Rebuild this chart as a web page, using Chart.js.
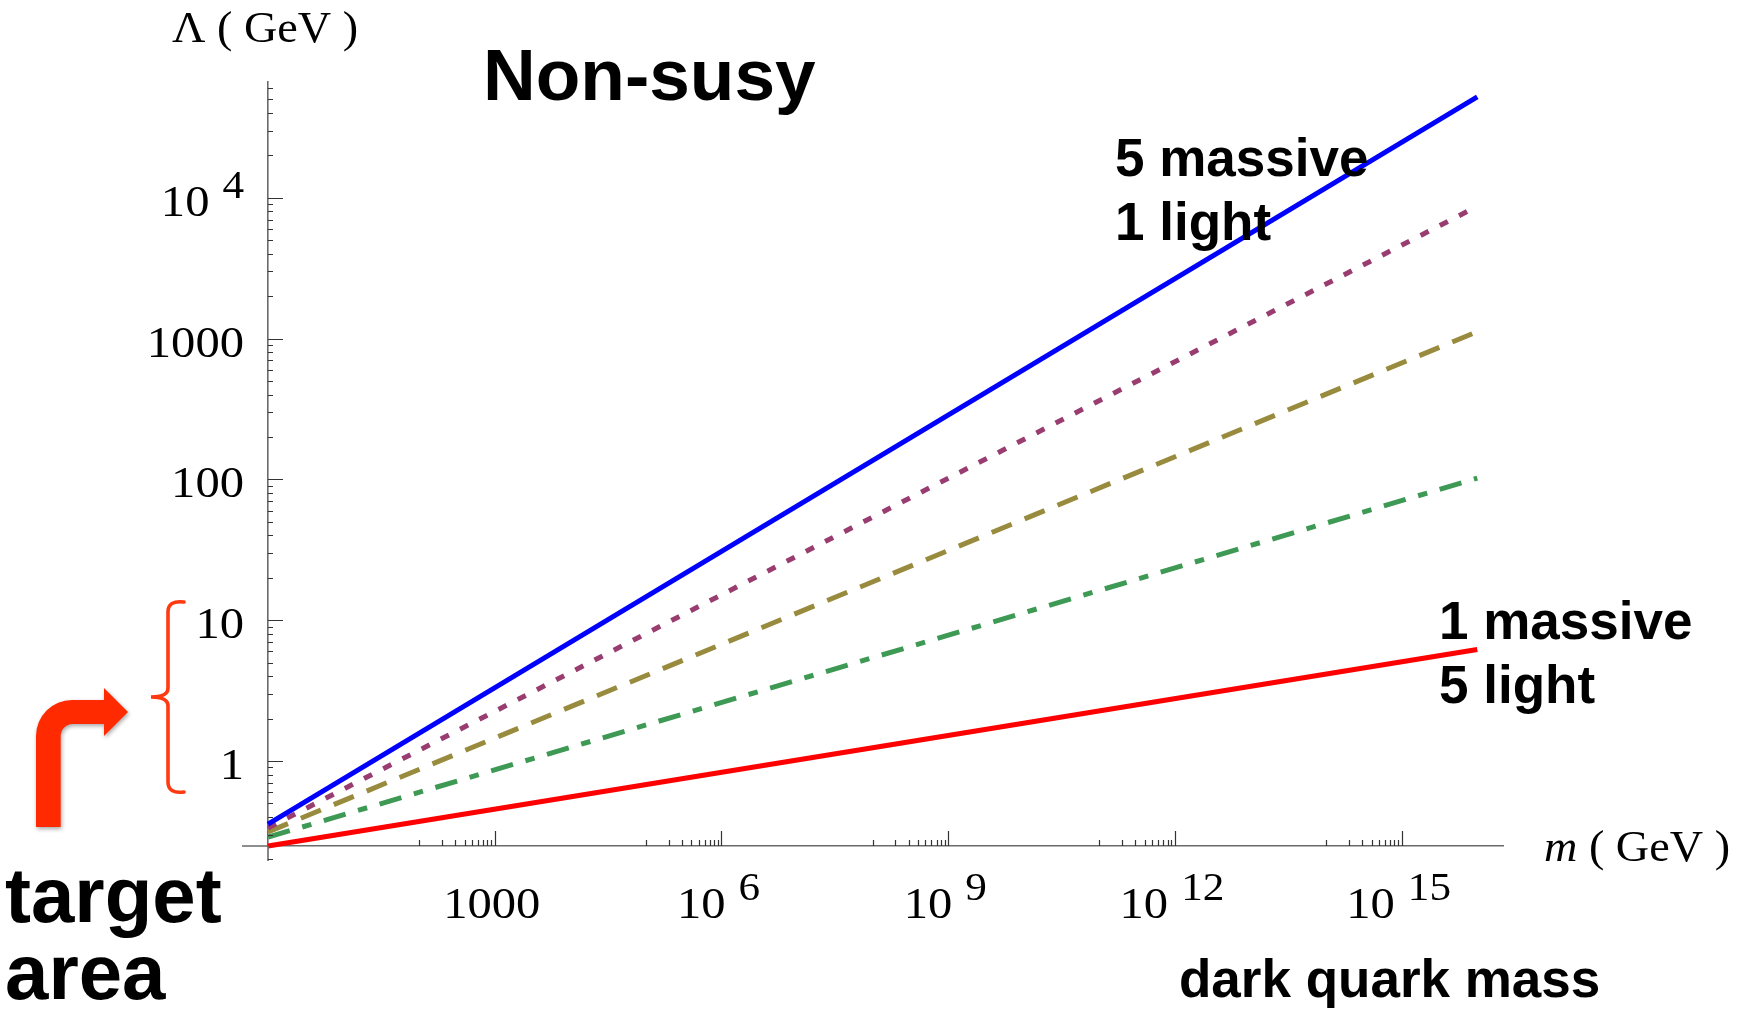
<!DOCTYPE html>
<html>
<head>
<meta charset="utf-8">
<script src="https://cdn.jsdelivr.net/npm/chart.js@4/dist/chart.umd.min.js"></script>
<style>
html,body{margin:0;padding:0;background:#fff;}
#wrap{width:1739px;height:1009px;position:relative;}
</style>
</head>
<body>
<div id="wrap"><canvas id="c" width="1739" height="1009"></canvas></div>
<script>
// ---- data (log-log straight lines) ----
const massX = [1, 1e16];                 // dark quark mass m (GeV)
const lambdaBlue   = [0.356, 52000];     // 5 massive, 1 light
const lambdaPurple = [0.335, 8700];
const lambdaOlive  = [0.314, 1120];
const lambdaGreen  = [0.288, 102];
const lambdaRed    = [0.249, 6.2];       // 1 massive, 5 light
const seriesNames = ['5 massive, 1 light', 'purple (dotted)', 'olive (dashed)', 'green (dot-dashed)', '1 massive, 5 light'];

// tick labels: base text and (optional) superscript exponent
const xTickValues = [1e3, 1e6, 1e9, 1e12, 1e15];
const xTickBase   = ['1000', '10', '10', '10', '10'];
const xTickExp    = ['', '6', '9', '12', '15'];
const yTickValues = [1, 10, 100, 1000, 1e4];
const yTickBase   = ['1', '10', '100', '1000', '10'];
const yTickExp    = ['', '', '', '', '4'];

const xRange = [1, 2.19e16];
const yRange = [0.2493, 66400];

const SERIF = '"Liberation Serif", "Times New Roman", serif';
const SANS = '"Liberation Sans", Arial, Helvetica, sans-serif';
const AXIS_COLOR = '#6a6a6a';
const STRETCH = 1.08;

function mk(name, ys, color, dash) {
  return {
    label: name,
    data: massX.map((x, i) => ({x: x, y: ys[i]})),
    borderColor: color,
    backgroundColor: color,
    borderWidth: 5,
    borderDash: dash,
    borderCapStyle: 'butt',
    pointRadius: 0,
    tension: 0,
    fill: false,
    clip: false
  };
}

// draw "base" + raised exponent, horizontally stretched like the reference
function labelWidth(ctx, base, exp) {
  ctx.font = '45px ' + SERIF;
  let w = ctx.measureText(base).width;
  if (exp) {
    ctx.font = '40px ' + SERIF;
    w += 12 + ctx.measureText(exp).width;
  }
  return w * STRETCH;
}
function drawLabel(ctx, base, exp, left, baseline) {
  ctx.save();
  ctx.translate(left, baseline);
  ctx.scale(STRETCH, 1);
  ctx.font = '45px ' + SERIF;
  ctx.fillText(base, 0, 0);
  if (exp) {
    const bw = ctx.measureText(base).width;
    ctx.font = '40px ' + SERIF;
    ctx.fillText(exp, bw + 12, -18);
  }
  ctx.restore();
}

const decorPlugin = {
  id: 'decor',
  afterDatasetsDraw(chart) {
    const ctx = chart.ctx;
    const xs = chart.scales.x, ys = chart.scales.y;
    const ax = xs.getPixelForValue(1);
    const ay = ys.getPixelForValue(yRange[0]);
    ctx.save();
    // axis extensions past the crossing point
    ctx.strokeStyle = AXIS_COLOR;
    ctx.lineWidth = 1.6;
    ctx.beginPath();
    ctx.moveTo(ax - 26, ay); ctx.lineTo(ax, ay);
    ctx.moveTo(ax, ay); ctx.lineTo(ax, ys.getPixelForValue(0.195));
    ctx.stroke();
    // y tick marks (inward)
    ctx.strokeStyle = '#333';
    ctx.lineWidth = 1.2;
    ctx.beginPath();
    for (let n = -1; n <= 4; n++) {
      for (let k = 1; k <= 9; k++) {
        const v = k * Math.pow(10, n);
        if (v < 0.2 || v > yRange[1]) continue;
        const py = Math.round(ys.getPixelForValue(v)) + 0.5;
        const len = (k === 1) ? 15 : 5;
        ctx.moveTo(ax, py); ctx.lineTo(ax + len, py);
      }
    }
    // x tick marks (upward), minor ticks in the decade below each labelled one
    xTickValues.forEach(major => {
      for (let k = 1; k <= 9; k++) {
        const v = k * major / 10;
        const px = Math.round(xs.getPixelForValue(v)) + 0.5;
        ctx.moveTo(px, ay); ctx.lineTo(px, ay - 6);
      }
      const pm = Math.round(xs.getPixelForValue(major)) + 0.5;
      ctx.moveTo(pm, ay); ctx.lineTo(pm, ay - 15);
    });
    ctx.stroke();
    ctx.restore();
  },
  afterDraw(chart) {
    const ctx = chart.ctx;
    const xs = chart.scales.x, ys = chart.scales.y;
    const ax = xs.getPixelForValue(1);
    const ay = ys.getPixelForValue(yRange[0]);
    ctx.save();
    ctx.fillStyle = '#000';
    ctx.textBaseline = 'alphabetic';
    ctx.textAlign = 'left';
    // tick labels from the scales' own ticks
    xs.ticks.forEach((t, i) => {
      const px = xs.getPixelForValue(t.value);
      const w = labelWidth(ctx, xTickBase[i], xTickExp[i]);
      drawLabel(ctx, xTickBase[i], xTickExp[i], px - 3 - w / 2, ay + 72);
    });
    ys.ticks.forEach((t, i) => {
      const py = ys.getPixelForValue(t.value);
      const w = labelWidth(ctx, yTickBase[i], yTickExp[i]);
      drawLabel(ctx, yTickBase[i], yTickExp[i], ax - 24 - w, py + 18);
    });
    // axis labels
    ctx.save();
    ctx.translate(172, 42);
    ctx.scale(1.05, 1);
    ctx.font = '44px ' + SERIF;
    ctx.fillText('\u039B ( GeV )', 0, 0);
    ctx.restore();
    ctx.save();
    ctx.translate(1544, 861);
    ctx.scale(1.05, 1);
    ctx.font = 'italic 44px ' + SERIF;
    ctx.fillText('m', 0, 0);
    const mw = ctx.measureText('m').width;
    ctx.font = '44px ' + SERIF;
    ctx.fillText(' ( GeV )', mw, 0);
    ctx.restore();
    // title and annotations
    ctx.font = 'bold 73px ' + SANS;
    ctx.fillText('Non-susy', 483, 100);
    ctx.font = 'bold 53px ' + SANS;
    ctx.fillText('5 massive', 1115, 176);
    ctx.fillText('1 light', 1115, 240);
    ctx.fillText('1 massive', 1439, 639);
    ctx.fillText('5 light', 1439, 703);
    ctx.fillText('dark quark mass', 1179, 997);
    ctx.font = 'bold 78px ' + SANS;
    ctx.fillText('target', 5, 922);
    ctx.fillText('area', 5, 999);
    // bent arrow
    ctx.save();
    ctx.shadowColor = 'rgba(0,0,0,0.35)';
    ctx.shadowBlur = 4;
    ctx.shadowOffsetX = 1;
    ctx.shadowOffsetY = 2;
    ctx.fillStyle = '#ff2a00';
    ctx.beginPath();
    ctx.moveTo(36, 827);
    ctx.lineTo(36, 736);
    ctx.arcTo(36, 700, 72, 700, 36);
    ctx.lineTo(104, 700);
    ctx.lineTo(104, 688);
    ctx.lineTo(128, 712);
    ctx.lineTo(104, 736);
    ctx.lineTo(104, 724);
    ctx.lineTo(72.7, 724);
    ctx.arcTo(60.7, 724, 60.7, 736, 12);
    ctx.lineTo(60.7, 827);
    ctx.closePath();
    ctx.fill();
    ctx.restore();
    // brace
    ctx.strokeStyle = '#ff3a10';
    ctx.lineWidth = 3.6;
    ctx.lineCap = 'round';
    ctx.beginPath();
    ctx.moveTo(184, 602);
    ctx.quadraticCurveTo(168, 600, 168, 612);
    ctx.lineTo(168, 688);
    ctx.quadraticCurveTo(168, 697, 151, 697);
    ctx.quadraticCurveTo(168, 697, 168, 706);
    ctx.lineTo(168, 782);
    ctx.quadraticCurveTo(168, 794, 184, 792);
    ctx.stroke();
    ctx.restore();
  }
};

new Chart(document.getElementById('c'), {
  type: 'line',
  data: {
    datasets: [
      mk(seriesNames[0], lambdaBlue, '#0000ff', []),
      mk(seriesNames[1], lambdaPurple, '#993d71', [9, 12.6]),
      mk(seriesNames[2], lambdaOlive, '#998b3d', [21.6, 14]),
      mk(seriesNames[3], lambdaGreen, '#3d9954', [22.7, 13, 9.5, 13]),
      mk(seriesNames[4], lambdaRed, '#ff0000', [])
    ]
  },
  options: {
    responsive: false,
    devicePixelRatio: 1,
    animation: false,
    layout: {padding: {top: 82, right: 236, bottom: 0, left: 0}},
    plugins: {legend: {display: false}, tooltip: {enabled: false}, title: {display: false}},
    scales: {
      x: {
        type: 'logarithmic',
        position: 'bottom',
        min: xRange[0], max: xRange[1],
        afterBuildTicks: s => { s.ticks = xTickValues.map(v => ({value: v})); },
        afterFit: s => { s.height = 1009 - 846; },
        grid: {display: false, drawTicks: false},
        border: {display: true, color: AXIS_COLOR, width: 1.6},
        ticks: {display: false, autoSkip: false}
      },
      y: {
        type: 'logarithmic',
        position: 'left',
        min: yRange[0], max: yRange[1],
        afterBuildTicks: s => { s.ticks = yTickValues.map(v => ({value: v})); },
        afterFit: s => { s.width = 268; },
        grid: {display: false, drawTicks: false},
        border: {display: true, color: AXIS_COLOR, width: 1.6},
        ticks: {display: false, autoSkip: false}
      }
    }
  },
  plugins: [decorPlugin]
});
</script>
</body>
</html>
